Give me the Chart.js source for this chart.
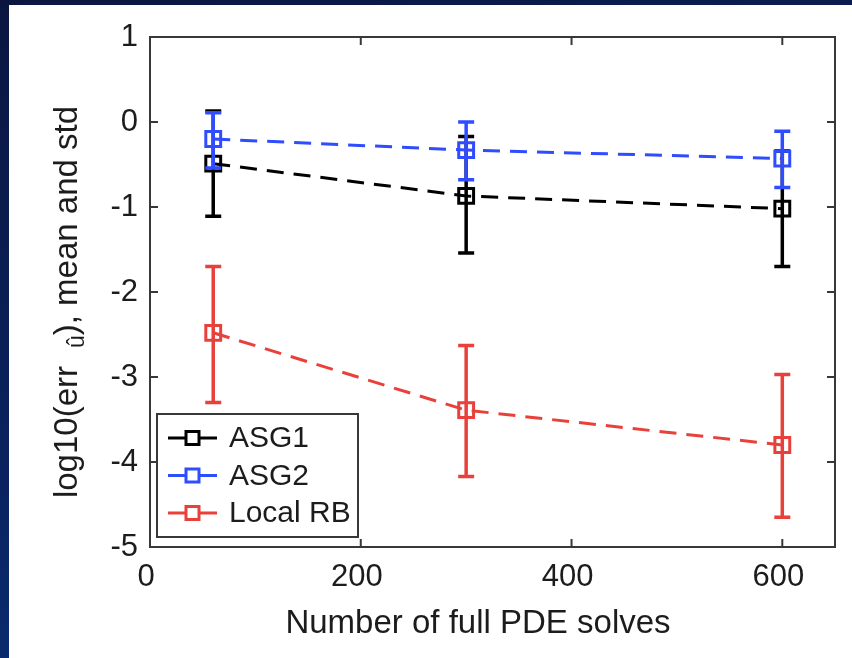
<!DOCTYPE html>
<html>
<head>
<meta charset="utf-8">
<script src="https://cdn.jsdelivr.net/npm/chart.js@4.4.1/dist/chart.umd.min.js"></script>
<style>
  html, body { margin: 0; padding: 0; }
  body {
    width: 852px; height: 658px; overflow: hidden; position: relative;
    background: linear-gradient(165deg, #0b1640 0%, #0a2360 55%, #0a357f 100%);
  }
  #panel { position: absolute; left: 9px; top: 5px; width: 843px; height: 653px; background: #fff; }
  canvas { display: block; }
</style>
</head>
<body>
<div id="panel"><canvas id="chart" width="843" height="653"></canvas></div>
<script>
// values
const solves = [60, 300, 600];

const asg1Mean = [-0.49, -0.87, -1.02];
const asg1Low  = [-1.11, -1.54, -1.70];
const asg1High = [0.13, -0.17, -0.34];

const asg2Mean = [-0.20, -0.33, -0.43];
const asg2Low  = [-0.54, -0.68, -0.77];
const asg2High = [0.11, 0.00, -0.11];

const rbMean = [-2.48, -3.39, -3.80];
const rbLow  = [-3.30, -4.17, -4.65];
const rbHigh = [-1.70, -2.63, -2.97];

const xTicks = [0, 200, 400, 600];
const yTicks = [-5, -4, -3, -2, -1, 0, 1];

const FONT = '"Liberation Sans", Arial, Helvetica, sans-serif';
const TEXT = '#1c1c1c';
const AXIS = '#383838';
const BLACK = '#000000';
const BLUE  = '#2f4cff';
const RED   = '#e8413b';

function series(label, color, mean, low, high, order) {
  return {
    label,
    data: solves.map((x, i) => ({ x, y: mean[i] })),
    errLow: low,
    errHigh: high,
    order,
    borderColor: color,
    borderWidth: 3,
    borderDash: [17, 10],
    showLine: true,
    fill: false,
    tension: 0,
    pointStyle: 'rect',
    pointRadius: 10.5,
    pointBorderWidth: 3,
    pointBorderColor: color,
    pointBackgroundColor: 'rgba(0,0,0,0)',
  };
}

// vertical mean +/- std bars, drawn right after their own dataset
const errorBars = {
  id: 'errorBars',
  afterDatasetDraw(chart, args) {
    const ds = chart.data.datasets[args.index];
    const { x, y } = chart.scales;
    const ctx = chart.ctx;
    ctx.save();
    ctx.strokeStyle = ds.borderColor;
    ctx.lineWidth = 3.5;
    ds.data.forEach((p, i) => {
      const px = x.getPixelForValue(p.x);
      const top = y.getPixelForValue(ds.errHigh[i]);
      const bot = y.getPixelForValue(ds.errLow[i]);
      ctx.beginPath();
      ctx.moveTo(px, top); ctx.lineTo(px, bot);
      ctx.moveTo(px - 8, top); ctx.lineTo(px + 8, top);
      ctx.moveTo(px - 8, bot); ctx.lineTo(px + 8, bot);
      ctx.stroke();
    });
    ctx.restore();
  },
};

// matlab style box, inward ticks, axis titles and the boxed legend
const frame = {
  id: 'frame',
  afterDraw(chart) {
    const { ctx, chartArea: a, scales: { x, y } } = chart;
    ctx.save();
    ctx.strokeStyle = AXIS;
    ctx.lineWidth = 2;
    ctx.strokeRect(a.left, a.top, a.right - a.left, a.bottom - a.top);

    const tl = 8;
    ctx.beginPath();
    xTicks.forEach(v => {
      const px = x.getPixelForValue(v);
      ctx.moveTo(px, a.bottom); ctx.lineTo(px, a.bottom - tl);
      ctx.moveTo(px, a.top); ctx.lineTo(px, a.top + tl);
    });
    yTicks.forEach(v => {
      const py = y.getPixelForValue(v);
      ctx.moveTo(a.left, py); ctx.lineTo(a.left + tl, py);
      ctx.moveTo(a.right, py); ctx.lineTo(a.right - tl, py);
    });
    ctx.stroke();

    // x title
    ctx.fillStyle = TEXT;
    ctx.font = `33px ${FONT}`;
    ctx.textAlign = 'center';
    ctx.textBaseline = 'alphabetic';
    ctx.fillText('Number of full PDE solves', 469, 628);

    // y title with the subscript
    ctx.save();
    ctx.translate(68, 297);
    ctx.rotate(-Math.PI / 2);
    ctx.textAlign = 'left';
    const p1 = 'log10(err', p2 = '), mean and std';
    ctx.font = `33px ${FONT}`;
    const w1 = ctx.measureText(p1).width;
    const w2 = ctx.measureText(p2).width;
    ctx.font = `23px ${FONT}`;
    const ws = ctx.measureText('û').width;
    const gap = 18;
    const total = w1 + gap + ws + w2;
    let sx = -total / 2;
    ctx.font = `33px ${FONT}`;
    ctx.fillText(p1, sx, 0);
    sx += w1 + gap;
    ctx.font = `23px ${FONT}`;
    ctx.fillText('û', sx, 7);
    sx += ws;
    ctx.font = `33px ${FONT}`;
    ctx.fillText(p2, sx, 0);
    ctx.restore();

    // legend
    const lx = a.left + 7, lw = 201, lh = 123;
    const ly = a.bottom - 10 - lh;
    ctx.fillStyle = '#fff';
    ctx.fillRect(lx, ly, lw, lh);
    ctx.strokeStyle = AXIS;
    ctx.lineWidth = 2;
    ctx.strokeRect(lx, ly, lw, lh);
    const items = [...chart.data.datasets].sort((p, q) => q.order - p.order);
    ctx.font = `30px ${FONT}`;
    ctx.textBaseline = 'middle';
    ctx.textAlign = 'left';
    items.forEach((ds, i) => {
      const cy = ly + 24 + i * 37.5;
      ctx.strokeStyle = ds.borderColor;
      ctx.lineWidth = 3;
      ctx.beginPath();
      ctx.moveTo(lx + 11, cy); ctx.lineTo(lx + 60, cy);
      ctx.stroke();
      ctx.fillStyle = '#fff';
      ctx.fillRect(lx + 29, cy - 6.5, 13, 13);
      ctx.lineWidth = 3;
      ctx.strokeRect(lx + 29, cy - 6.5, 13, 13);
      ctx.fillStyle = TEXT;
      ctx.fillText(ds.label, lx + 72, cy + 1);
    });
    ctx.restore();
  },
};

new Chart(document.getElementById('chart'), {
  type: 'line',
  data: {
    datasets: [
      series('ASG1', BLACK, asg1Mean, asg1Low, asg1High, 3),
      series('ASG2', BLUE, asg2Mean, asg2Low, asg2High, 2),
      series('Local RB', RED, rbMean, rbLow, rbHigh, 1),
    ],
  },
  options: {
    responsive: false,
    animation: false,
    layout: { padding: { left: 0, right: 17, top: 32, bottom: 0 } },
    plugins: {
      legend: { display: false },
      tooltip: { enabled: false },
    },
    scales: {
      x: {
        type: 'linear',
        min: 0,
        max: 650,
        afterBuildTicks: s => { s.ticks = xTicks.map(value => ({ value })); },
        afterFit: s => { s.height = 111; },
        grid: { display: false, drawTicks: false },
        border: { display: false },
        ticks: {
          color: TEXT,
          font: { family: FONT, size: 31 },
          padding: 12,
          labelOffset: -4,
          maxRotation: 0,
        },
      },
      y: {
        min: -5,
        max: 1,
        afterBuildTicks: s => { s.ticks = yTicks.map(value => ({ value })); },
        afterFit: s => { s.width = 141; },
        grid: { display: false, drawTicks: false },
        border: { display: false },
        ticks: {
          color: TEXT,
          font: { family: FONT, size: 31 },
          padding: 12,
        },
      },
    },
  },
  plugins: [errorBars, frame],
});
</script>
</body>
</html>
